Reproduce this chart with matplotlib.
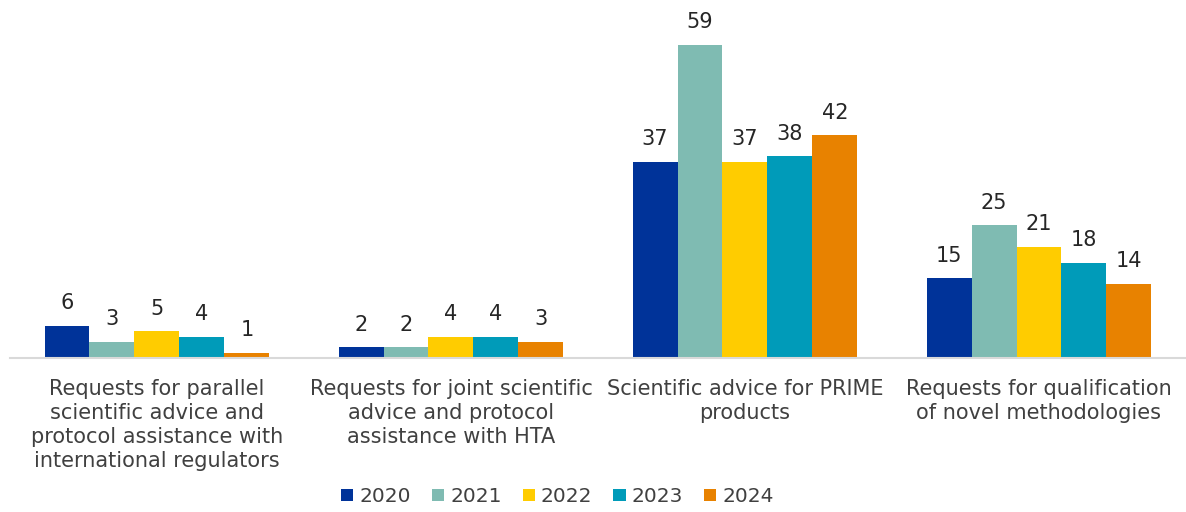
import numpy as np
import matplotlib
matplotlib.use('Agg')
import matplotlib.pyplot as plt

categories = [
    'Requests for parallel\nscientific advice and\nprotocol assistance with\ninternational regulators',
    'Requests for joint scientific\nadvice and protocol\nassistance with HTA',
    'Scientific advice for PRIME\nproducts',
    'Requests for qualification\nof novel methodologies',
]
years = ['2020', '2021', '2022', '2023', '2024']
v2020 = [6, 2, 37, 15]
v2021 = [3, 2, 59, 25]
v2022 = [5, 4, 37, 21]
v2023 = [4, 4, 38, 18]
v2024 = [1, 3, 42, 14]
series = [v2020, v2021, v2022, v2023, v2024]
colors = ['#003399', '#7FBBB2', '#FFCC00', '#009BB9', '#E88200']

fig = plt.figure(figsize=(11.86, 5.12), dpi=100)
ax = fig.add_axes([0.0084, 0.3008, 0.9916, 0.6992])

x = np.arange(len(categories))
width = 0.153
for i, (vals, col, yr) in enumerate(zip(series, colors, years)):
    pos = x + (i - 2) * width
    bars = ax.bar(pos, vals, width, color=col, label=yr)
    for b, v in zip(bars, vals):
        ax.text(b.get_x() + b.get_width() / 2, v + 2.4, str(v),
                ha='center', va='bottom', fontsize=15, color='#262626')

ax.set_xlim(-0.5, len(categories) - 0.5)
ax.set_ylim(0, 67.5)
ax.set_yticks([])
ax.set_xticks(x)
ax.set_xticklabels(categories, fontsize=15, color='#404040', linespacing=1.26)
ax.tick_params(axis='x', length=0, pad=15)
for s in ['top', 'right', 'left']:
    ax.spines[s].set_visible(False)
ax.spines['bottom'].set_color('#D9D9D9')
ax.spines['bottom'].set_linewidth(1.5)

fig.legend(loc='center', bbox_to_anchor=(0.47, 0.03), ncol=5, frameon=False,
           fontsize=14.5, handlelength=0.6, handleheight=0.6, handletextpad=0.3,
           columnspacing=1.05, labelcolor='#404040')

fig.savefig('out.png', dpi=100)
